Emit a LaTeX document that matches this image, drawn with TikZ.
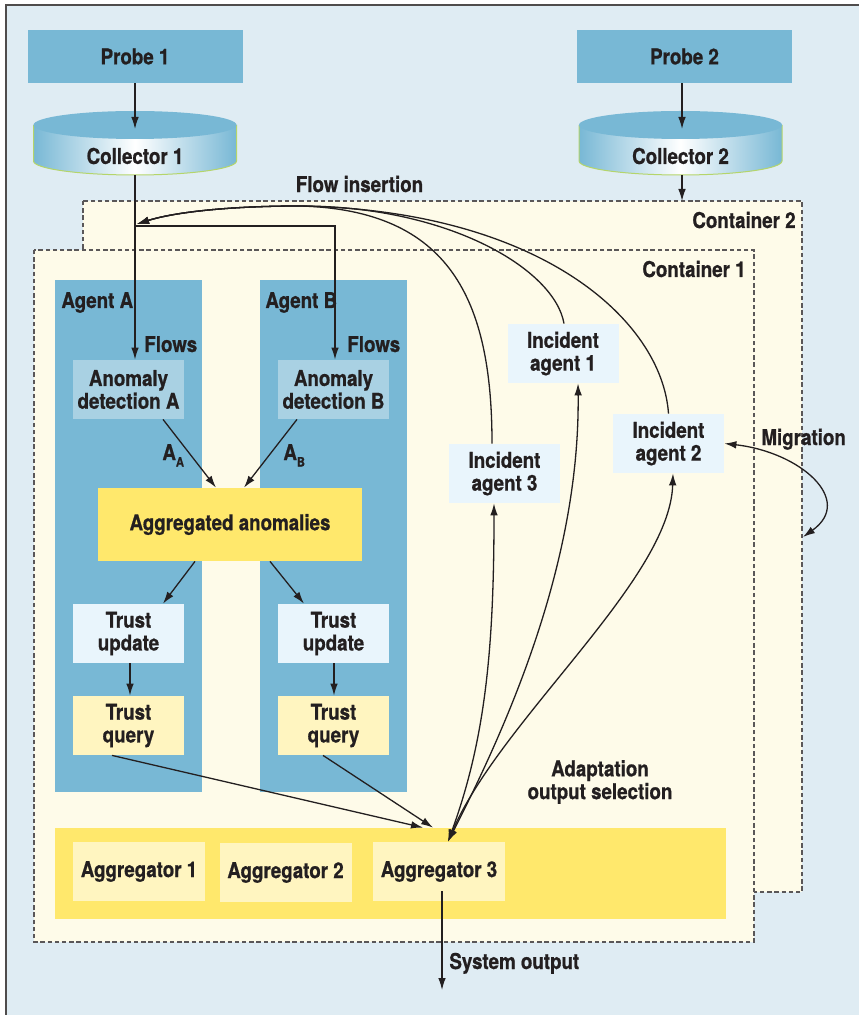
\documentclass[tikz,border=0pt]{standalone}
\usepackage{fontspec}
\setmainfont{TeX Gyre Heros}[FakeStretch=0.86,BoldFeatures={FakeBold=0.8}]
\usetikzlibrary{arrows.meta}

\definecolor{ink}{HTML}{231F20}
\definecolor{bgblue}{HTML}{DFECF3}
\definecolor{cream}{HTML}{FEFBE9}
\definecolor{agentblue}{HTML}{78B8D5}
\definecolor{paleblue}{HTML}{A9D1E3}
\definecolor{iceblue}{HTML}{E9F5FC}
\definecolor{aggyellow}{HTML}{FFE86C}
\definecolor{paleyellow}{HTML}{FFF5C0}
\definecolor{rimgreen}{HTML}{B5D56A}

\begin{document}
\begin{tikzpicture}[x=0.5pt,y=-0.5pt,>={Latex[length=6pt,width=3.8pt]},
  every node/.style={font=\fontsize{10.9}{11.4}\selectfont\bfseries,text=ink,inner sep=0pt},
  probe/.style={fill=agentblue,minimum width=107.5pt,minimum height=26.5pt},
  detect/.style={align=center,fill=paleblue,minimum width=55.5pt,minimum height=29.5pt},
  update/.style={align=center,fill=iceblue,minimum width=55.5pt,minimum height=29.5pt},
  query/.style={align=center,fill=paleyellow,minimum width=55.5pt,minimum height=29.5pt},
  incident/.style={align=center,fill=iceblue,minimum width=55.5pt,minimum height=29.5pt},
  aggregator/.style={fill=paleyellow,minimum width=66pt,minimum height=29.5pt},
  line/.style={draw=ink,line width=0.65pt},
  container/.style={fill=cream,draw=ink!75,line width=0.65pt,dash pattern=on 2.2pt off 1.4pt}]

\useasboundingbox (0,0) rectangle (859,1015);
\fill[bgblue] (6,5) rectangle (859,1015);
\draw[ink!80,line width=0.65pt] (6,1015) -- (6,5) -- (859,5);

%% probes and collectors
\node[probe] (probe1) at (135,56.5) {Probe 1};
\node[probe] (probe2) at (684.5,56.5) {Probe 2};

\shade[left color=agentblue,right color=agentblue,middle color=white]
  (33.5,125) -- (33.5,161) arc[start angle=180,end angle=0,x radius=101.5,y radius=14] -- (236.5,125) -- cycle;
\draw[rimgreen,line width=0.5pt]
  (33.5,125) -- (33.5,161) arc[start angle=180,end angle=0,x radius=101.5,y radius=14] -- (236.5,125);
\fill[agentblue] (135,125) ellipse[x radius=101.5,y radius=14];
\node (coll1) at (135,156) {Collector 1};

\shade[left color=agentblue,right color=agentblue,middle color=white]
  (579,125) -- (579,161) arc[start angle=180,end angle=0,x radius=101.5,y radius=14] -- (782,125) -- cycle;
\draw[rimgreen,line width=0.5pt]
  (579,125) -- (579,161) arc[start angle=180,end angle=0,x radius=101.5,y radius=14] -- (782,125);
\fill[agentblue] (680.5,125) ellipse[x radius=101.5,y radius=14];
\node (coll2) at (680.5,156) {Collector 2};

\coordinate (coll1top) at (135,129);
\coordinate (coll1bot) at (135,175);
\coordinate (coll2top) at (682,129);
\coordinate (coll2bot) at (682,175);
\coordinate (c2top) at (682,201);

\node (insert) at (359.5,184) {Flow insertion};

%% containers
\draw[container] (83,201) rectangle (802,892);
\node[anchor=base east] (cont2) at (796,228) {Container 2};
\draw[container] (34,250) rectangle (754,942);
\node[anchor=base east] (cont1) at (746,277) {Container 1};

%% agents
\fill[agentblue] (55,280) rectangle (202,792);
\fill[agentblue] (260,280) rectangle (407,792);
\node[anchor=base west] (agentA) at (61,308) {Agent A};
\node[anchor=base west] (agentB) at (265,308) {Agent B};
\node[anchor=base west] (flowsA) at (144,352) {Flows};
\node[anchor=base west] (flowsB) at (347,352) {Flows};

\node[detect] (adA) at (128.5,389.5) {Anomaly\\detection A};
\node[detect] (adB) at (333.5,389.5) {Anomaly\\detection B};
\node[anchor=base west] (subA) at (162,460) {A\raisebox{-0.3em}{\fontsize{6.5}{7}\selectfont A}};
\node[anchor=base west] (subB) at (283,460) {A\raisebox{-0.3em}{\fontsize{6.5}{7}\selectfont B}};
\node[fill=aggyellow,minimum width=132pt,minimum height=36.5pt] (agg) at (230,524.5) {Aggregated anomalies};
\node[update] (tuA) at (128.5,633.5) {Trust\\update};
\node[update] (tuB) at (333.5,633.5) {Trust\\update};
\node[query] (tqA) at (128.5,725.5) {Trust\\query};
\node[query] (tqB) at (333.5,725.5) {Trust\\query};

%% incident agents
\node[incident] (ia1) at (563,353.5) {Incident\\agent 1};
\node[incident] (ia2) at (668.5,443.5) {Incident\\agent 2};
\node[incident] (ia3) at (504.5,473.5) {Incident\\agent 3};
\node[anchor=base west] (migr) at (761,445) {Migration};
\coordinate (migend) at (803,537);

\node[align=center] (adapt) at (600,782) {Adaptation\\output selection};

%% aggregators
\node[fill=aggyellow,minimum width=335.5pt,minimum height=45.5pt] (aggbar) at (390.5,873.5) {};
\node[aggregator] (agg1) at (139,871.5) {Aggregator 1};
\node[aggregator] (agg2) at (285.5,872.5) {Aggregator 2};
\node[aggregator] (agg3) at (439,871.5) {Aggregator 3};
\coordinate (sysout) at (442,990);
\node[anchor=base west] (sysl) at (449,969) {System output};

\coordinate (fork) at (135,226);
\coordinate (conv) at (300,206);
\coordinate (ins) at (137,224);

\path[->,every edge/.append style={line}]
(probe1) edge (coll1top)
(probe2.south -| coll2top) edge (coll2top)
(coll2bot) edge (c2top)
(coll1bot) edge ([xshift=3.25pt]adA.north)
([xshift=17.25pt]adA.south) edge ([xshift=-7pt]agg.north)
([xshift=-18.25pt]adB.south) edge ([xshift=7pt]agg.north)
([xshift=-17.5pt]agg.south) edge ([xshift=17.25pt]tuA.north)
([xshift=20pt]agg.south) edge ([xshift=-14.75pt]tuB.north)
([xshift=0.75pt]tuA.south) edge ([xshift=0.75pt]tqA.north)
([xshift=0.25pt]tuB.south) edge ([xshift=0.25pt]tqB.north)
([xshift=-8.25pt]tqA.south) edge ([xshift=16.25pt]aggbar.north)
([xshift=-5.25pt]tqB.south) edge ([xshift=21.25pt]aggbar.north)
([xshift=1.5pt,yshift=5pt]agg3.south) edge (sysout);

\draw[line,->] (fork) -| ([xshift=0.75pt]adB.north);

%% flow insertion
\draw[line,->] ([xshift=-6.25pt]ia3.north) .. controls (492,300) and (450,210) .. (conv)
  .. controls (230,206) and (175,212) .. (ins);
\draw[line,->] ([xshift=0.5pt]ia1.north) .. controls (555,270) and (450,206) .. (conv)
  .. controls (230,206) and (175,212) .. (ins);
\draw[line,->] (ia2.north) .. controls (662,320) and (540,210) .. (conv)
  .. controls (230,206) and (175,212) .. (ins);

%% output selection
\draw[line,<->] ([xshift=-5.25pt]ia3.south) .. controls (494,650) and (485,740) .. ([xshift=4.5pt]agg3.north);
\draw[line,<->] ([xshift=7.5pt]ia1.south) .. controls (580,560) and (510,720) .. ([xshift=4.5pt]agg3.north);
\draw[line,<->] ([xshift=2.25pt]ia2.south) .. controls (670,580) and (500,720) .. ([xshift=4.5pt]agg3.north);

\draw[line,<->] (ia2.east) .. controls (800,452) and (855,500) .. (migend);
\end{tikzpicture}
\end{document}
